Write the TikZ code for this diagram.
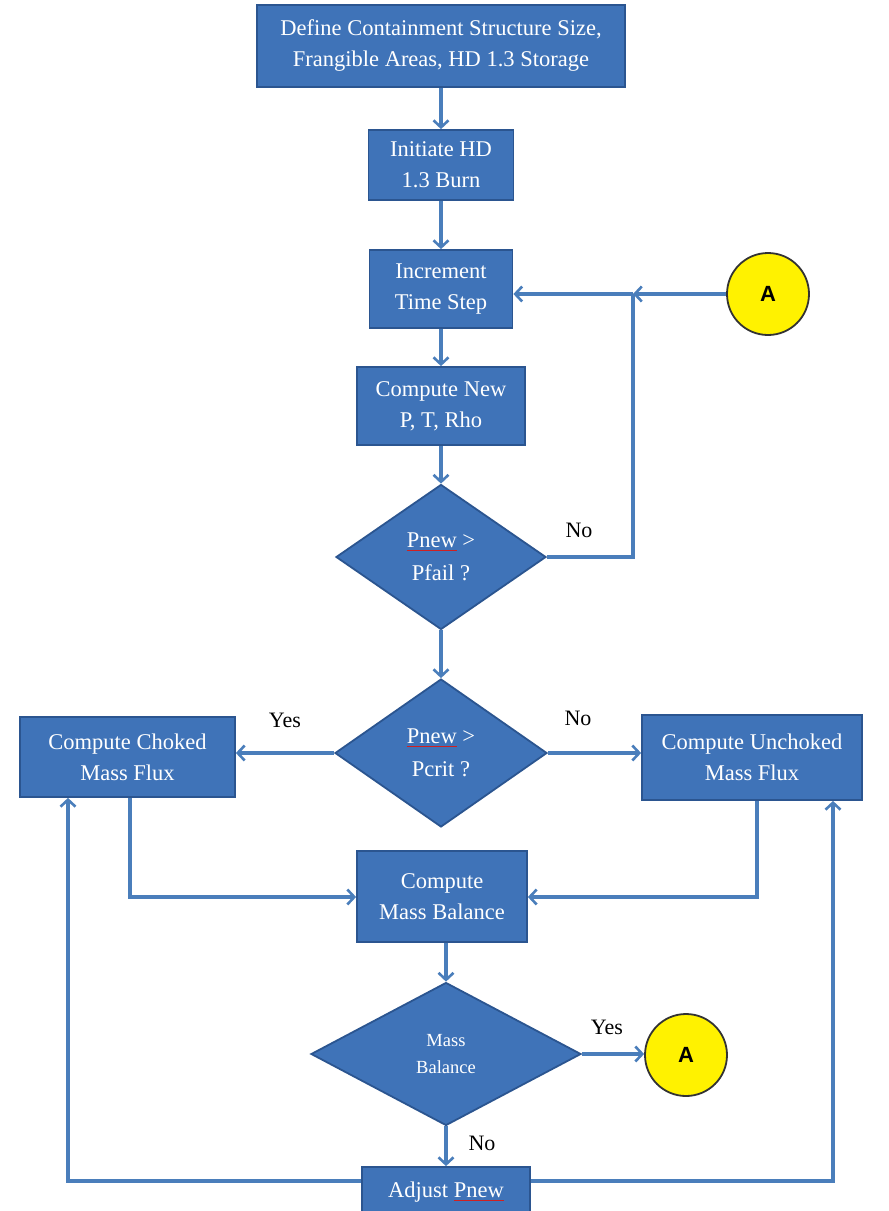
\documentclass[tikz,border=0pt]{standalone}
\usepackage{fontspec}
\setmainfont{Liberation Serif}
\newfontfamily\circfont{Liberation Sans}
\usetikzlibrary{shapes.geometric,arrows.meta}
\definecolor{boxfill}{HTML}{3F73B8}
\definecolor{boxline}{HTML}{2B5590}
\definecolor{linkblue}{HTML}{4A7EBB}
\definecolor{spellred}{HTML}{D02020}
\newcommand{\redul}[1]{\setbox0\hbox{#1}\rlap{\color{spellred}\rule[-3pt]{\wd0}{0.9pt}}\box0}
\tikzset{
  procbox/.style={rectangle, draw=boxline, line width=1.8pt, fill=boxfill, text=white,
    align=center, inner sep=0pt, font=\fontsize{22.5}{31}\selectfont},
  decbox/.style={diamond, draw=boxline, line width=1.8pt, fill=boxfill, text=white,
    align=center, inner sep=0pt, font=\fontsize{22.5}{33}\selectfont},
  connA/.style={circle, draw=black!80, line width=1.8pt, fill=yellow, inner sep=0pt,
    minimum size=82pt, font=\circfont\bfseries\fontsize{22}{24}\selectfont},
  flow/.style={draw=linkblue, line width=3.2pt, -{Straight Barb[length=7pt,width=15pt,line width=2.6pt]}},
  plain/.style={draw=linkblue, line width=3.2pt},
  lbl/.style={font=\fontsize{22}{24}\selectfont, text=black, inner sep=0pt}
}
\begin{document}
\begin{tikzpicture}[x=1pt,y=-1pt]
\useasboundingbox[fill=white] (0,0) rectangle (889,1211);

% nodes
\node[procbox, minimum width=368pt, minimum height=82pt] (def) at (441,46)
  {Define Containment Structure Size,\\Frangible Areas, HD 1.3 Storage};
\node[procbox, minimum width=145pt, minimum height=70pt] (init) at (441,165)
  {Initiate HD\\1.3 Burn};
\node[procbox, minimum width=143pt, minimum height=78pt] (inc) at (441,289)
  {Increment\\Time Step};
\node[procbox, minimum width=168pt, minimum height=78pt] (cnew) at (441,406)
  {Compute New\\P, T, Rho};
\node[decbox, minimum width=210pt, minimum height=145pt] (pfail) at (441,557)
  {\raisebox{-4pt}{\redul{Pnew}\ >}\\\raisebox{-4pt}{Pfail ?}};
\node[decbox, minimum width=212pt, minimum height=148pt] (pcrit) at (441,753)
  {\raisebox{-4pt}{\redul{Pnew}\ >}\\\raisebox{-4pt}{Pcrit ?}};
\node[procbox, minimum width=215pt, minimum height=80pt] (choked) at (127.5,757)
  {Compute Choked\\Mass Flux};
\node[procbox, minimum width=220pt, minimum height=85pt] (unchoked) at (752,757.5)
  {Compute Unchoked\\Mass Flux};
\node[procbox, minimum width=170pt, minimum height=91pt] (mbbox) at (442,896.5)
  {Compute\\Mass Balance};
\node[decbox, minimum width=270pt, minimum height=143pt, font=\fontsize{18.5}{27}\selectfont] (mbd) at (446,1054)
  {Mass\\Balance};
\node[procbox, minimum width=168pt, minimum height=50pt] (adj) at (446,1192)
  {\raisebox{4pt}{Adjust \redul{Pnew}}};
\node[connA] (A1) at (768,294) {A};
\node[connA] (A2) at (686,1055) {A};

% helper coordinates
\coordinate (jn) at (633,294);
\coordinate (cl) at (130,897);
\coordinate (cr) at (757,897);
\coordinate (bl) at (68,1181);
\coordinate (br) at (833,1181);

% connectors
\draw[flow] (def.south) -- (init.north);
\draw[flow] (init.south) -- (inc.north);
\draw[flow] (inc.south) -- (cnew.north);
\draw[flow] (cnew.south) -- (pfail.north);
\draw[flow] (pfail.south) -- (pcrit.north);
\draw[plain] (pfail.east) -| (jn);
\draw[flow] (jn) -- (inc.east |- jn);
\draw[flow] (A1.west) -- (jn);
\draw[flow] (pcrit.west) -- (choked.east |- pcrit.west);
\draw[flow] (pcrit.east) -- (unchoked.west |- pcrit.east);
\draw[flow] (choked.south -| cl) -- (cl) -- (mbbox.west |- cl);
\draw[flow] (unchoked.south -| cr) -- (cr) -- (mbbox.east |- cr);
\draw[flow] (mbbox.south -| mbd.north) -- (mbd.north);
\draw[flow] (mbd.east) -- (A2.west |- mbd.east);
\draw[flow] (mbd.south) -- (adj.north -| mbd.south);
\draw[flow] (adj.west |- bl) -- (bl) -- (choked.south -| bl);
\draw[flow] (adj.east |- br) -- (br) -- (unchoked.south -| br);

% labels
\node[lbl] (lno1) at (579,530) {No};
\node[lbl] (lyes1) at (285,720) {Yes};
\node[lbl] (lno2) at (578,718) {No};
\node[lbl] (lyes2) at (607,1027) {Yes};
\node[lbl] (lno3) at (482,1143) {No};
\end{tikzpicture}
\end{document}
